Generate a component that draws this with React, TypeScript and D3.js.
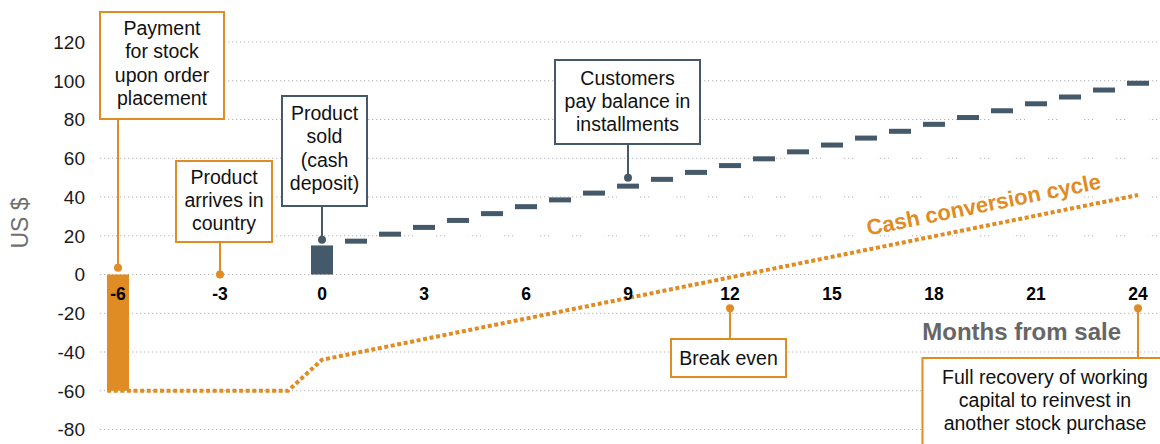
import React from 'react';
import * as d3 from 'd3';

// months relative to the sale, and cumulative cash in US $
const yTicks = [-80, -60, -40, -20, 0, 20, 40, 60, 80, 100, 120];
const xTicks = [-6, -3, 0, 3, 6, 9, 12, 15, 18, 21, 24];

const stockPayment = { month: -6, value: -60 };
const cashDeposit = { month: 0, value: 15 };

const installmentMonths = [1, 2, 3, 4, 5, 6, 7, 8, 9, 10, 11, 12, 13, 14, 15, 16, 17, 18, 19, 20, 21, 22, 23, 24];
const installmentTotals = [18.5, 22.1, 25.6, 29.2, 32.7, 36.3, 39.8, 43.3, 46.9, 50.4, 54.0, 57.5, 61.0, 64.6, 68.1, 71.7, 75.2, 78.8, 82.3, 85.8, 89.4, 92.9, 96.5, 100];

// cash conversion cycle (net working capital position)
const cycleMonths = [-6.32, -1, 0, 24];
const cycleValues = [-60, -60, -44, 41];

const ORANGE = '#E08C24';
const SLATE = '#44596A';
const FONT = '"Liberation Sans", Arial, sans-serif';

type Note = {
  month: number;
  value: number;
  lines: string[];
  color: string;
  box: { x: number; y: number; w: number; h: number; cx: number; base: number; lh: number };
};

const notes: Note[] = [
  { month: -6, value: 3.5, lines: ['Payment', 'for stock', 'upon order', 'placement'], color: ORANGE,
    box: { x: 100, y: 12, w: 124, h: 107, cx: 162, base: 34.5, lh: 23.5 } },
  { month: -3, value: 0, lines: ['Product', 'arrives in', 'country'], color: ORANGE,
    box: { x: 176, y: 161, w: 96, h: 81, cx: 224, base: 183.5, lh: 23.3 } },
  { month: 0, value: 18, lines: ['Product', 'sold', '(cash', 'deposit)'], color: SLATE,
    box: { x: 282, y: 96, w: 85, h: 110, cx: 324.5, base: 120, lh: 23.3 } },
  { month: 9, value: 50, lines: ['Customers', 'pay balance in', 'installments'], color: SLATE,
    box: { x: 555, y: 60, w: 145, h: 84, cx: 627.5, base: 85, lh: 23.2 } },
  { month: 12, value: -17.4, lines: ['Break even'], color: ORANGE,
    box: { x: 671, y: 339, w: 115, h: 38, cx: 728.5, base: 365, lh: 23 } },
  { month: 24, value: -17.4, lines: ['Full recovery of working', 'capital to reinvest in', 'another stock purchase'], color: ORANGE,
    box: { x: 922.5, y: 358, w: 260, h: 110, cx: 1045, base: 383.5, lh: 23.3 } },
];

export default function App() {
  const width = 1160;
  const height = 444;

  const x = d3.scaleLinear().domain([-6, 24]).range([118, 1138]);
  const y = d3.scaleLinear().domain([-80, 120]).range([429.5, 42]);
  const barW = 22;
  const dashH = 5;

  const cycle = cycleMonths.map((m, i) => [m, cycleValues[i]] as [number, number]);
  const line = d3.line<[number, number]>().x(d => x(d[0])).y(d => y(d[1]));

  // label along the cycle line
  const p0 = [x(0), y(-44)];
  const p1 = [x(24), y(41)];
  const angle = (Math.atan2(p1[1] - p0[1], p1[0] - p0[0]) * 180) / Math.PI;

  return (
    <svg width={width} height={height} style={{ position: 'absolute', left: 0, top: 0, background: '#fff' }} fontFamily={FONT}>
      {/* grid */}
      {yTicks.map(t => (
        <line key={'g' + t} x1={100} x2={width} y1={y(t)} y2={y(t)} stroke="#b4b4b4" strokeWidth={1} strokeDasharray="1.3 2.7" />
      ))}
      {yTicks.map(t => (
        <text key={'yt' + t} x={85} y={y(t)} dy="0.36em" textAnchor="end" fontSize={19} fill="#1a1a1a">{t}</text>
      ))}
      <text transform={`translate(28,223) rotate(-90)`} textAnchor="middle" fontSize={23} fill="#707070">US $</text>

      {/* invisible base bars that mask the grid under the installments */}
      {installmentMonths.map((m, i) => (
        <rect key={'w' + m} x={x(m) - barW / 2} y={y(installmentTotals[i])} width={barW} height={y(0) - 1 - y(installmentTotals[i])} fill="#fff" />
      ))}

      <rect x={x(stockPayment.month) - barW / 2} y={y(0)} width={barW} height={y(stockPayment.value) - y(0)} fill={ORANGE} />
      <rect x={x(cashDeposit.month) - barW / 2} y={y(cashDeposit.value)} width={barW} height={y(0) - y(cashDeposit.value)} fill={SLATE} />

      {installmentMonths.map((m, i) => (
        <rect key={'d' + m} x={x(m) - barW / 2} y={y(installmentTotals[i])} width={barW} height={dashH} fill={SLATE} />
      ))}

      <path d={line(cycle) || ''} fill="none" stroke={ORANGE} strokeWidth={4} strokeDasharray="4 2.6" />

      {xTicks.map(t => (
        <text key={'xt' + t} x={x(t)} y={300} textAnchor="middle" fontSize={17.5} fontWeight="bold" fill="#000">{t}</text>
      ))}
      <text x={1121} y={340} textAnchor="end" fontSize={24} fontWeight="bold" fill="#666">Months from sale</text>

      <text transform={`translate(${x(19.5)},${y(-44 + (85 * 19.5) / 24) - 14}) rotate(${angle})`} textAnchor="middle" fontSize={22} fontWeight="bold" fill={ORANGE}>
        Cash conversion cycle
      </text>

      {/* annotations */}
      {notes.map((n, i) => {
        const px = x(n.month);
        const py = y(n.value);
        const below = n.box.y > py;
        const edge = below ? n.box.y : n.box.y + n.box.h;
        return (
          <g key={'n' + i}>
            <line x1={px} x2={px} y1={py} y2={edge} stroke={n.color} strokeWidth={2} />
            <circle cx={px} cy={py} r={4} fill={n.color} />
            <rect x={n.box.x} y={n.box.y} width={n.box.w} height={n.box.h} fill="#fff" stroke={n.color} strokeWidth={2} />
            {n.lines.map((l, j) => (
              <text key={j} x={n.box.cx} y={n.box.base + j * n.box.lh} textAnchor="middle" fontSize={19.5} fill="#111">{l}</text>
            ))}
          </g>
        );
      })}
    </svg>
  );
}
